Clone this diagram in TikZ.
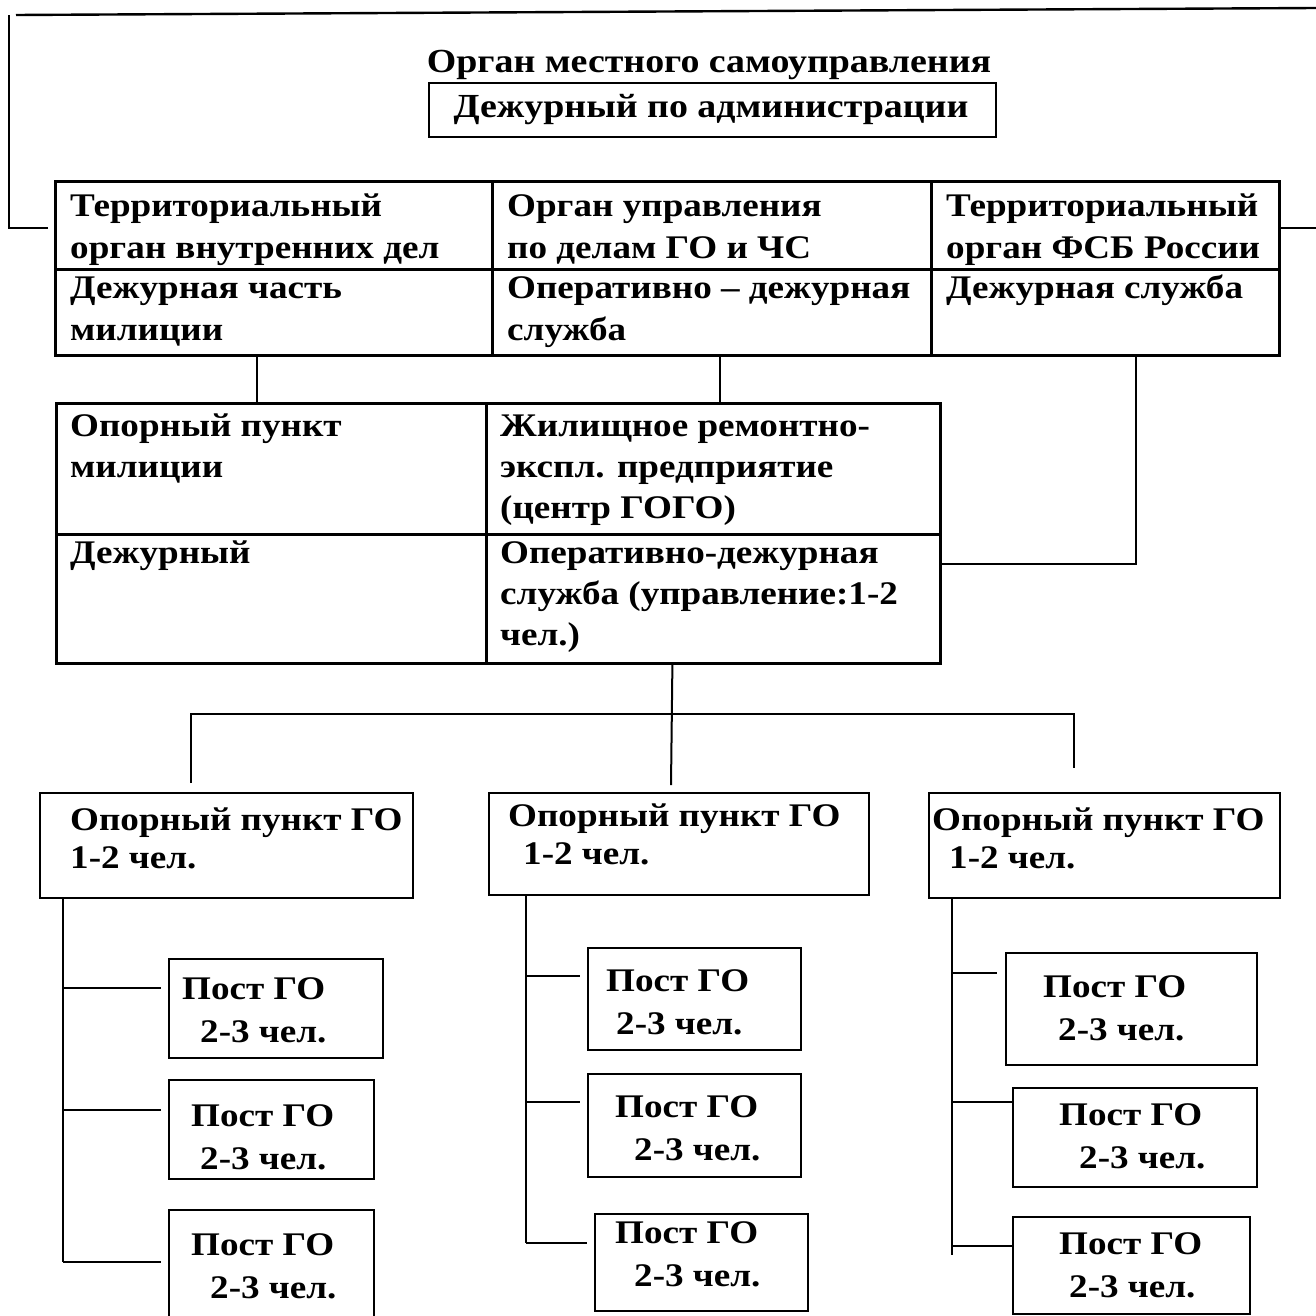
\documentclass[tikz,border=0pt]{standalone}
\usepackage{fontspec}
\setmainfont{Liberation Serif}[FakeStretch=1.125]
\usetikzlibrary{positioning}
\tikzset{
  cell/.style={draw, line width=2.8pt, anchor=north west, inner sep=0pt},
  box/.style={draw, line width=2pt, anchor=north west, inner sep=0pt},
  txt/.style={anchor=base west, align=left, inner sep=0pt},
  headtxt/.style={anchor=base, inner sep=0pt, font=\bfseries\fontsize{33.7}{42}\selectfont},
  tabtwo/.style={font=\bfseries\fontsize{33}{41}\selectfont},
  tight/.style={font=\bfseries\fontsize{33}{38}\selectfont},
  post/.style={font=\bfseries\fontsize{33}{43}\selectfont},
  link/.style={line width=2pt}
}
\begin{document}
\begin{tikzpicture}[x=1pt, y=-1pt, font=\bfseries\fontsize{33}{42}\selectfont]
\useasboundingbox (0,0) rectangle (1316,1316);

\node[headtxt] (organ) at (709,73) {Орган местного самоуправления};
\node[box, line width=2.4pt, minimum width=567pt, minimum height=54pt] (duty) at (428,82) {};
\node[headtxt] (dutytxt) at (711,118) {Дежурный по администрации};

\node[cell, minimum width=437pt, minimum height=88pt] (c11) at (54,180) {};
\node[cell, minimum width=439pt, minimum height=88pt] (c12) at (491,180) {};
\node[cell, minimum width=348pt, minimum height=88pt] (c13) at (930,180) {};
\node[cell, minimum width=437pt, minimum height=86pt] (c21) at (54,268) {};
\node[cell, minimum width=439pt, minimum height=86pt] (c22) at (491,268) {};
\node[cell, minimum width=348pt, minimum height=86pt] (c23) at (930,268) {};
\node[txt] (t11) at (70,258) {Территориальный\\орган внутренних дел};
\node[txt] (t12) at (507,258) {Орган управления\\по делам ГО и ЧС};
\node[txt] (t13) at (946,258) {Территориальный\\орган ФСБ России};
\node[txt] (t21) at (70,340) {Дежурная часть\\милиции};
\node[txt] (t22) at (507,340) {Оперативно – дежурная\\служба};
\node[txt] (t23) at (946,298) {Дежурная служба};

\node[cell, minimum width=430pt, minimum height=131pt] (d11) at (55,402) {};
\node[cell, minimum width=454pt, minimum height=131pt] (d12) at (485,402) {};
\node[cell, minimum width=430pt, minimum height=129pt] (d21) at (55,533) {};
\node[cell, minimum width=454pt, minimum height=129pt] (d22) at (485,533) {};
\node[txt, tabtwo] (u11) at (70,477) {Опорный пункт\\милиции};
\node[txt, tabtwo] (u12) at (500,518) {Жилищное ремонтно-\\экспл. предприятие\\(центр ГОГО)};
\node[txt, tabtwo] (u21) at (70,563) {Дежурный};
\node[txt, tabtwo] (u22) at (500,645) {Оперативно-дежурная\\служба (управление:1-2\\чел.)};

\node[box, minimum width=373pt, minimum height=105pt] (o1) at (39,792) {};
\node[box, minimum width=380pt, minimum height=102pt] (o2) at (488,792) {};
\node[box, minimum width=351pt, minimum height=105pt] (o3) at (928,792) {};
\node[txt, tight] (v1) at (70,868) {Опорный пункт ГО\\1-2 чел.};
\node[txt, tight] (v2) at (508,864) {Опорный пункт ГО\\\hspace*{15pt}1-2 чел.};
\node[txt, tight] (v3) at (932,868) {Опорный пункт ГО\\\hspace*{17pt}1-2 чел.};

\node[box, minimum width=214pt, minimum height=99pt] (p11) at (168,958) {};
\node[box, minimum width=205pt, minimum height=99pt] (p12) at (168,1079) {};
\node[box, minimum width=205pt, minimum height=140pt] (p13) at (168,1209) {};
\node[box, minimum width=213pt, minimum height=102pt] (p21) at (587,947) {};
\node[box, minimum width=213pt, minimum height=103pt] (p22) at (587,1073) {};
\node[box, minimum width=213pt, minimum height=97pt] (p23) at (594,1213) {};
\node[box, minimum width=251pt, minimum height=112pt] (p31) at (1005,952) {};
\node[box, minimum width=244pt, minimum height=99pt] (p32) at (1012,1087) {};
\node[box, minimum width=237pt, minimum height=97pt] (p33) at (1012,1216) {};
\node[txt, post] (q11) at (182,1042) {Пост ГО\\\hspace*{18pt}2-3 чел.};
\node[txt, post] (q12) at (191,1169) {Пост ГО\\\hspace*{9pt}2-3 чел.};
\node[txt, post] (q13) at (191,1298) {Пост ГО\\\hspace*{19pt}2-3 чел.};
\node[txt, post] (q21) at (606,1034) {Пост ГО\\\hspace*{10pt}2-3 чел.};
\node[txt, post] (q22) at (615,1160) {Пост ГО\\\hspace*{19pt}2-3 чел.};
\node[txt, post] (q23) at (615,1286) {Пост ГО\\\hspace*{19pt}2-3 чел.};
\node[txt, post] (q31) at (1043,1040) {Пост ГО\\\hspace*{15pt}2-3 чел.};
\node[txt, post] (q32) at (1059,1168) {Пост ГО\\\hspace*{20pt}2-3 чел.};
\node[txt, post] (q33) at (1059,1297) {Пост ГО\\\hspace*{10pt}2-3 чел.};

\coordinate (fl) at (48,228);
\coordinate (ftl) at (9,15);
\coordinate (ftop) at (16,15);
\coordinate (ftopr) at (1316,8);
\coordinate (fr) at (1316,228);
\draw[line width=2.4pt] (fl) -- (fl -| ftl) -- (ftl);
\draw[line width=2.4pt] (ftop) -- (ftopr);
\draw[line width=2.4pt] (c13.east |- fr) -- (fr);

\draw[link] ([xshift=-16.5pt]c21.south) -- ([xshift=-16.5pt]c21.south |- d11.north);
\draw[link] ([xshift=8.5pt]c22.south) -- ([xshift=8.5pt]c22.south |- d12.north);
\draw[link] ([xshift=31pt]c23.south) |- ([yshift=34.5pt]d22.east);

\coordinate (busl) at (191,714);
\coordinate (busr) at (1074,714);
\coordinate (drop1) at (191,783);
\coordinate (drop2) at (671,785);
\coordinate (drop3) at (1074,768);
\draw[link] ([xshift=-41pt]d22.south) -- (drop2);
\draw[link] (drop1) -- (busl) -- (busr) -- (drop3);

\coordinate (s1) at (63,1262);
\coordinate (s2) at (526,1243);
\coordinate (s3) at (952,1255);
\draw[link] ([xshift=24pt]o1.south west) -- (s1);
\draw[link] ([xshift=38pt]o2.south west) -- (s2);
\draw[link] ([xshift=24pt]o3.south west) -- (s3);

\coordinate (b11) at (161,988);
\coordinate (b12) at (161,1110);
\coordinate (b13) at (161,1262);
\coordinate (b21) at (580,976);
\coordinate (b22) at (580,1102);
\coordinate (b23) at (587,1243);
\coordinate (b31) at (997,973);
\coordinate (b32) at (1012,1102);
\coordinate (b33) at (1012,1246);
\foreach \b/\s in {b11/s1, b12/s1, b13/s1, b21/s2, b22/s2, b23/s2, b31/s3, b32/s3, b33/s3}
  \draw[link] (\s |- \b) -- (\b);

\end{tikzpicture}
\end{document}
